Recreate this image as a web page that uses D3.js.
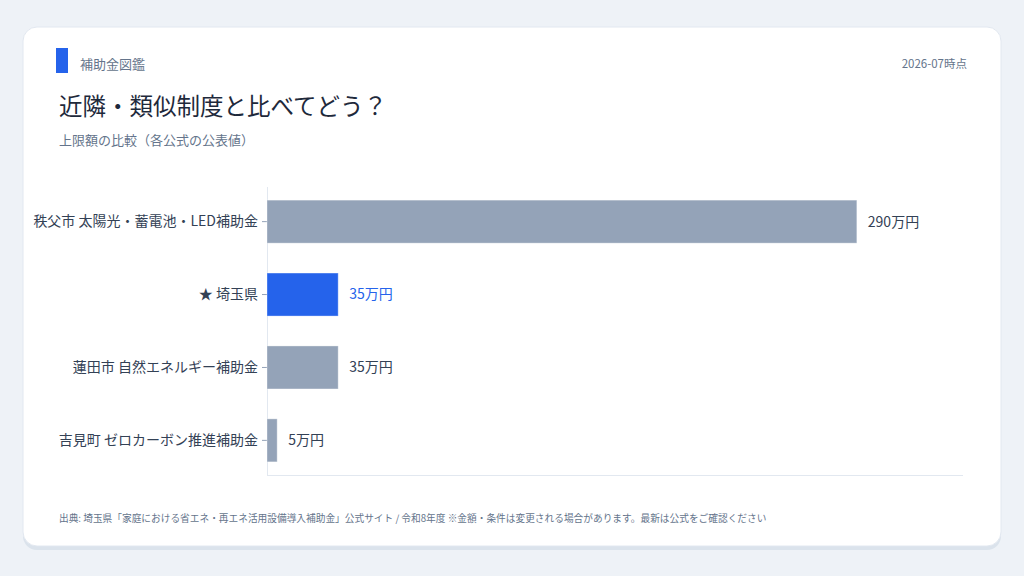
<!DOCTYPE html>
<html>
<head>
<meta charset="utf-8">
<script src="https://cdn.jsdelivr.net/npm/d3@7"></script>
<style>
  html, body { margin: 0; padding: 0; background: #eef2f7; }
  svg { display: block; font-family: "Noto Sans CJK JP", "Noto Sans", sans-serif; }
</style>
</head>
<body>
<div id="chart"></div>
<script>
// data
var programs = ["秩父市 太陽光・蓄電池・LED補助金", "★ 埼玉県", "蓮田市 自然エネルギー補助金", "吉見町 ゼロカーボン推進補助金"];
var limits = [290, 35, 35, 5];          // 万円
var highlight = [false, true, false, false];
var valueLabels = ["290万円", "35万円", "35万円", "5万円"];

var width = 1024, height = 576;

var svg = d3.select("#chart").append("svg")
	.attr("width", width)
	.attr("height", height);

// card
svg.append("rect").attr("x", 23).attr("y", 31).attr("width", 978).attr("height", 519)
	.attr("rx", 14).attr("fill", "#dbe3ec");
svg.append("rect").attr("x", 23).attr("y", 27).attr("width", 978).attr("height", 519)
	.attr("rx", 14).attr("fill", "#ffffff").attr("stroke", "#e2e8f0").attr("stroke-width", 1);

// header
svg.append("rect").attr("x", 56).attr("y", 48).attr("width", 12).attr("height", 25).attr("fill", "#2563eb");
svg.append("text").attr("x", 80).attr("y", 69).attr("font-size", 13).attr("fill", "#64748b").text("補助金図鑑");
svg.append("text").attr("x", 967).attr("y", 68).attr("font-size", 11.5).attr("fill", "#64748b")
	.attr("text-anchor", "end").text("2026-07時点");
svg.append("text").attr("x", 59).attr("y", 115).attr("font-size", 23.5).attr("fill", "#1e293b")
	.text("近隣・類似制度と比べてどう？");
svg.append("text").attr("x", 59).attr("y", 145).attr("font-size", 13).attr("fill", "#64748b")
	.text("上限額の比較（各公式の公表値）");

// chart area
var plotL = 267, plotR = 963, plotT = 187, plotB = 475;

var x = d3.scaleLinear().domain([0, d3.max(limits) * 1.18]).range([plotL, plotR]);
var y = d3.scaleBand().domain(programs).range([plotT, plotB]).paddingInner(0.41).paddingOuter(0.18);

// baseline
svg.append("line").attr("x1", plotL).attr("x2", plotR).attr("y1", plotB + 0.5).attr("y2", plotB + 0.5)
	.attr("stroke", "#e2e8f0");

var yAxis = svg.append("g").attr("transform", "translate(" + plotL + ",0)")
	.call(d3.axisLeft(y).tickSize(5).tickPadding(4));
yAxis.select(".domain").attr("stroke", "#e2e8f0").attr("d", "M0.5," + plotT + "V" + plotB);
yAxis.selectAll(".tick line").attr("stroke", "#94a3b8");
yAxis.selectAll(".tick text").attr("font-size", 14).attr("fill", "#334155")
	.attr("font-family", "'Noto Sans CJK JP', sans-serif");

var rows = programs.map(function (p, i) {
	return { name: p, value: limits[i], hi: highlight[i], label: valueLabels[i] };
});

svg.selectAll("rect.bar").data(rows).enter().append("rect")
	.attr("class", "bar")
	.attr("x", x(0))
	.attr("y", function (d) { return y(d.name); })
	.attr("width", function (d) { return x(d.value) - x(0); })
	.attr("height", y.bandwidth())
	.attr("fill", function (d) { return d.hi ? "#2563eb" : "#94a3b8"; })
	.attr("stroke", "#ffffff").attr("stroke-opacity", 0.35).attr("stroke-width", 1);

svg.selectAll("text.val").data(rows).enter().append("text")
	.attr("class", "val")
	.attr("x", function (d) { return x(d.value) + 11; })
	.attr("y", function (d) { return y(d.name) + y.bandwidth() / 2; })
	.attr("dy", "0.35em")
	.attr("font-size", 14)
	.attr("fill", function (d) { return d.hi ? "#2563eb" : "#334155"; })
	.text(function (d) { return d.label; });

// footer
svg.append("text").attr("x", 59).attr("y", 522).attr("font-size", 9.7).attr("fill", "#64748b")
	.text("出典: 埼玉県「家庭における省エネ・再エネ活用設備導入補助金」公式サイト / 令和8年度 ※金額・条件は変更される場合があります。最新は公式をご確認ください");
</script>
</body>
</html>
